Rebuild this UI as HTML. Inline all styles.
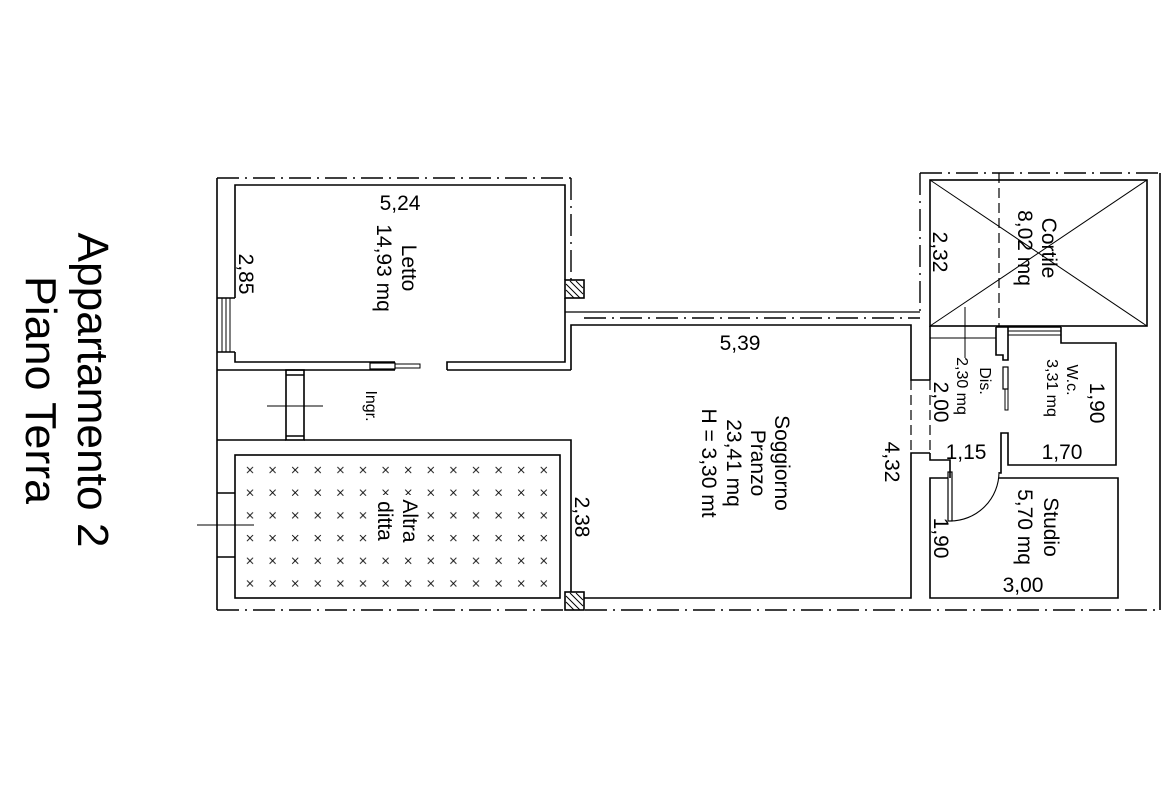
<!DOCTYPE html>
<html><head><meta charset="utf-8"><style>
html,body{margin:0;padding:0;background:#fff;}
svg{display:block;}
text{font-family:"Liberation Sans",Arial,sans-serif;fill:#000;}
</style></head><body>
<svg width="1170" height="785" viewBox="0 0 1170 785" xmlns="http://www.w3.org/2000/svg">
<defs>
<pattern id="xp" x="239" y="459" width="22.6" height="22.7" patternUnits="userSpaceOnUse">
<line x1="8" y1="8" x2="14" y2="14" stroke="#000" stroke-width="0.9"/>
<line x1="8" y1="14" x2="14" y2="8" stroke="#000" stroke-width="0.9"/>
</pattern>
</defs>
<rect x="239" y="459" width="316" height="136" fill="url(#xp)"/>
<rect x="370" y="495" width="46" height="54" fill="#fff"/>
<g fill="none" stroke="#000" stroke-width="1.6">
<g stroke-dasharray="22,6,2,6" stroke-width="1.4">
<line x1="217" y1="178" x2="571" y2="178"/>
<line x1="571" y1="178" x2="571" y2="280"/>
<line x1="584" y1="318" x2="920" y2="318"/>
<line x1="920" y1="173" x2="920" y2="312"/>
<line x1="920" y1="173" x2="1160" y2="173"/>
<line x1="585" y1="610" x2="1160" y2="610"/>
<line x1="217" y1="610" x2="565" y2="610"/>
</g>
<line x1="1160" y1="173" x2="1160" y2="610"/>
<line x1="217" y1="178" x2="217" y2="610"/>
<line x1="565" y1="312" x2="920" y2="312" stroke-width="1.2"/>
<polyline points="235,298 235,185 565,185 565,280"/>
<polyline points="235,352 235,362 395,362"/>
<polyline points="447,370 447,362 565,362 565,298"/>
<polyline points="217,370 395,370"/>
<line x1="447" y1="370" x2="571" y2="370"/>
<line x1="217" y1="298" x2="235" y2="298"/>
<line x1="217" y1="352" x2="235" y2="352"/>
<line x1="222" y1="298" x2="222" y2="352" stroke-width="1"/>
<line x1="226" y1="298" x2="226" y2="352" stroke-width="1"/>
<line x1="230" y1="298" x2="230" y2="352" stroke-width="1"/>
<rect x="370" y="363" width="25" height="6" stroke-width="1.2"/>
<rect x="395" y="364" width="25" height="4" stroke-width="1"/>
<rect x="565" y="280" width="19" height="18"/>
<rect x="565" y="592" width="19" height="18"/>
<rect x="286" y="370" width="18" height="70"/>
<line x1="286" y1="375" x2="304" y2="375"/>
<line x1="286" y1="436" x2="304" y2="436"/>
<line x1="267" y1="406" x2="323" y2="406" stroke-width="1"/>
<polyline points="217,440 286,440"/>
<polyline points="304,440 571,440 571,592"/>
<rect x="235" y="455" width="325" height="143"/>
<line x1="217" y1="493" x2="235" y2="493"/>
<line x1="217" y1="557" x2="235" y2="557"/>
<line x1="197" y1="525" x2="254" y2="525" stroke-width="1"/>
<polyline points="571,370 571,325 911,325 911,380 930,380"/>
<polyline points="930,453 911,453 911,598 584,598"/>
<g stroke-dasharray="10,5" stroke-width="1.2">
<line x1="911" y1="380" x2="911" y2="453"/>
<line x1="930" y1="380" x2="930" y2="453"/>
<line x1="999" y1="173" x2="999" y2="327"/>
</g>
<rect x="930" y="180" width="217" height="146"/>
<line x1="930" y1="180" x2="1147" y2="326" stroke-width="1"/>
<line x1="1147" y1="180" x2="930" y2="326" stroke-width="1"/>
<line x1="965" y1="307" x2="965" y2="358" stroke-width="1"/>
<line x1="930" y1="338" x2="996" y2="338" stroke-width="1"/>
<line x1="930" y1="326" x2="930" y2="380"/>
<polyline points="996,327 1008,327 1008,360 1003,360 1003,355 996,355 996,327"/>
<rect x="1003" y="367" width="5" height="22" stroke-width="1.2"/>
<rect x="1005" y="389" width="3" height="21" stroke-width="1"/>
<line x1="1008" y1="327" x2="1061" y2="327"/>
<line x1="1008" y1="331" x2="1061" y2="331" stroke-width="1"/>
<line x1="1008" y1="335" x2="1061" y2="335" stroke-width="1"/>
<polyline points="1061,327 1061,343 1116,343 1116,465 1008,465 1008,433 1001,433 1001,473 999,473"/>
<polyline points="930,453 930,460 950,460 950,478"/>
<polyline points="999,478 1118,478 1118,598 930,598 930,478 948,478"/>
<rect x="948" y="472" width="4" height="49" stroke-width="1.2"/>
<path d="M950,521 A49,49 0 0 0 999,472" stroke-width="1.1"/>
</g>
<g stroke="#000" stroke-width="1">
<line x1="566" y1="284" x2="580" y2="298"/><line x1="566" y1="290" x2="574" y2="298"/><line x1="570" y1="281" x2="583" y2="294"/><line x1="576" y1="281" x2="583" y2="288"/>
<line x1="566" y1="596" x2="580" y2="610"/><line x1="566" y1="602" x2="574" y2="610"/><line x1="570" y1="593" x2="583" y2="606"/><line x1="576" y1="593" x2="583" y2="600"/>
</g>
<g font-size="21" text-anchor="middle">
<text x="400" y="210">5,24</text>
<text x="740" y="350">5,39</text>
<text x="966" y="459">1,15</text>
<text x="1062" y="459">1,70</text>
<text x="1023" y="592">3,00</text>
</g>
<g font-size="21" text-anchor="middle">
<text transform="translate(402,268) rotate(90)">Letto</text>
<text transform="translate(377,268) rotate(90)">14,93 mq</text>
<text transform="translate(239,274) rotate(90)">2,85</text>
<text transform="translate(775,463) rotate(90)">Soggiorno</text>
<text transform="translate(751,463) rotate(90)">Pranzo</text>
<text transform="translate(727,463) rotate(90)">23,41 mq</text>
<text transform="translate(702,463) rotate(90)">H = 3,30 mt</text>
<text transform="translate(885,462) rotate(90)">4,32</text>
<text transform="translate(575,517) rotate(90)">2,38</text>
<text transform="translate(403,521) rotate(90)">Altra</text>
<text transform="translate(378,521) rotate(90)">ditta</text>
<text transform="translate(1042,248) rotate(90)">Cortile</text>
<text transform="translate(1018,248) rotate(90)">8,02 mq</text>
<text transform="translate(933,252) rotate(90)">2,32</text>
<text transform="translate(934,402) rotate(90)">2,00</text>
<text transform="translate(1090,403) rotate(90)">1,90</text>
<text transform="translate(1044,527) rotate(90)">Studio</text>
<text transform="translate(1018,527) rotate(90)">5,70 mq</text>
<text transform="translate(934,538) rotate(90)">1,90</text>
</g>
<g font-size="16" text-anchor="middle">
<text transform="translate(366,406) rotate(90)">Ingr.</text>
<text transform="translate(980,381) rotate(90)">Dis.</text>
<text transform="translate(957,386) rotate(90)">2,30 mq</text>
<text transform="translate(1067,380) rotate(90)">W.c.</text>
<text transform="translate(1047,388) rotate(90)">3,31 mq</text>
</g>
<g font-size="44" text-anchor="middle">
<text transform="translate(78,390) rotate(90)" textLength="315" lengthAdjust="spacingAndGlyphs">Appartamento 2</text>
<text transform="translate(26,390) rotate(90)" textLength="228" lengthAdjust="spacingAndGlyphs">Piano Terra</text>
</g>
</svg>
</body></html>
